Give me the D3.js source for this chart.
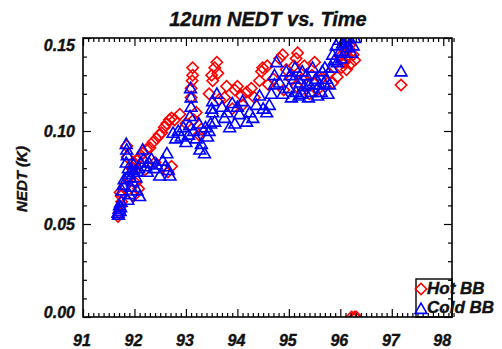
<!DOCTYPE html>
<html>
<head>
<meta charset="utf-8">
<script src="https://cdn.jsdelivr.net/npm/d3@7"></script>
<style>
  body { margin: 0; background: #fff; }
  svg { display: block; }
  text { font-family: "Liberation Sans", Arial, sans-serif; font-weight: bold; font-style: italic; fill: #111; stroke: #111; stroke-width: 0.4px; }
</style>
</head>
<body>
<svg id="chart" width="502" height="349"></svg>
<script>
const TITLE = '12um NEDT vs. Time'
const Y_LABEL = 'NEDT (K)'
const xTicks = [91, 92, 93, 94, 95, 96, 97, 98]
const yTicks = [0.00, 0.05, 0.10, 0.15]
const legendNames = ['Hot BB', 'Cold BB']

// [year, NEDT] pairs
const hotBB = [
  [91.68,0.054],[91.70,0.056],[91.72,0.059],[91.72,0.067],[91.75,0.062],[91.81,0.070],[91.74,0.065],
  [91.85,0.092],[91.86,0.086],[91.88,0.075],[91.95,0.080],[92.00,0.082],[92.05,0.084],[92.10,0.086],
  [92.16,0.088],[92.23,0.090],[92.30,0.091],[92.36,0.094],[92.43,0.096],[92.48,0.098],[92.53,0.099],
  [92.58,0.102],[92.63,0.104],[92.68,0.106],[92.72,0.107],[92.78,0.106],[92.88,0.109],[92.72,0.081],
  [92.65,0.078],[92.02,0.072],[92.08,0.069],[91.98,0.065],[92.20,0.079],[92.40,0.083],
  [93.13,0.134],[93.13,0.130],[93.12,0.127],[93.10,0.123],[93.10,0.118],[93.00,0.104],[93.15,0.106],
  [93.25,0.098],[93.30,0.101],[93.20,0.110],
  [93.60,0.137],[93.62,0.131],[93.52,0.127],[93.50,0.130],[93.56,0.134],[93.45,0.120],[93.65,0.117],
  [93.75,0.118],[93.79,0.124],[93.90,0.112],[93.95,0.122],[94.00,0.124],[94.08,0.119],[94.10,0.114],
  [94.18,0.121],[94.27,0.123],[94.33,0.118],[94.43,0.127],[94.47,0.132],[94.49,0.134],[94.58,0.135],
  [94.60,0.125],[94.70,0.128],[94.82,0.139],[94.88,0.141],[95.17,0.142],[95.14,0.139],[95.10,0.135],
  [94.95,0.133],[94.90,0.122],
  [95.05,0.128],[95.15,0.124],[95.25,0.128],[95.30,0.135],[95.35,0.125],[95.40,0.120],[95.45,0.130],
  [95.50,0.137],[95.55,0.122],[95.62,0.128],[95.70,0.124],[95.78,0.131],[95.85,0.126],[95.94,0.129],
  [96.00,0.140],[96.05,0.137],[96.08,0.146],[96.10,0.143],[96.12,0.140],[96.15,0.140],[96.17,0.144],
  [96.18,0.146],[96.20,0.136],[96.12,0.133],[96.08,0.137],[96.02,0.134],[96.25,0.141],[96.28,0.138],
  [97.18,0.1247],
  [96.22,0.0],[96.28,0.0],[96.31,0.0]
]

const coldBB = [
  [91.68,0.056],[91.69,0.055],[91.70,0.058],[91.71,0.060],[91.72,0.057],[91.73,0.059],[91.74,0.062],
  [91.76,0.068],[91.78,0.071],[91.80,0.074],
  [91.84,0.093],[91.85,0.090],[91.86,0.087],[91.84,0.083],[91.88,0.080],[91.90,0.077],[91.92,0.075],
  [91.95,0.079],[91.98,0.082],[92.00,0.078],[91.96,0.073],[91.93,0.070],[91.90,0.066],[91.87,0.063],
  [92.05,0.068],[92.10,0.065],[92.03,0.075],
  [92.08,0.080],[92.12,0.083],[92.16,0.090],[92.18,0.085],[92.22,0.081],[92.25,0.078],[92.28,0.083],
  [92.33,0.085],[92.38,0.080],[92.43,0.082],[92.49,0.076],[92.55,0.084],[92.63,0.088],[92.66,0.079],
  [92.69,0.076],[92.60,0.081],
  [92.75,0.099],[92.80,0.096],[92.85,0.100],[92.91,0.097],[92.95,0.102],[93.00,0.094],[93.05,0.098],
  [93.07,0.103],[93.08,0.108],[93.10,0.113],[93.10,0.118],[93.09,0.123],[93.15,0.100],[93.20,0.096],
  [93.27,0.090],[93.30,0.093],[93.36,0.088],[93.42,0.097],[93.38,0.102],[93.25,0.104],
  [93.45,0.100],[93.48,0.104],[93.50,0.112],[93.52,0.116],[93.52,0.110],[93.60,0.120],[93.56,0.105],
  [93.70,0.113],[93.75,0.107],[93.85,0.102],[93.80,0.110],[93.90,0.115],[93.95,0.104],[94.00,0.113],
  [94.04,0.109],[94.10,0.116],[94.18,0.105],[94.24,0.110],[94.30,0.107],[94.37,0.114],[94.43,0.119],
  [94.50,0.112],[94.57,0.110],[94.62,0.114],[94.66,0.120],[94.72,0.125],[94.72,0.130],[94.76,0.137],
  [94.82,0.126],[94.88,0.120],[94.95,0.132],[95.00,0.123],[95.05,0.118],[95.10,0.128],[95.14,0.121],
  [95.20,0.119],[95.22,0.126],[95.26,0.132],[95.26,0.120],[95.30,0.124],[95.34,0.130],[95.38,0.118],
  [95.40,0.125],[95.44,0.121],[95.46,0.134],[95.50,0.127],[95.53,0.128],[95.56,0.119],[95.60,0.125],
  [95.63,0.121],[95.65,0.132],[95.68,0.126],[95.73,0.128],[95.76,0.120],[95.79,0.125],[95.70,0.134],
  [95.12,0.134],[95.02,0.130],
  [95.83,0.134],[95.85,0.141],[95.88,0.138],[95.92,0.146],[95.98,0.149],[96.00,0.143],[96.04,0.147],
  [96.08,0.142],[96.10,0.150],[96.12,0.148],[96.14,0.145],[96.17,0.150],[95.94,0.137],[96.02,0.139],
  [96.22,0.142],[96.25,0.146],[96.28,0.150],
  [97.18,0.132]
]

const svg = d3.select('#chart')
const margin = {left: 83, right: 50, top: 38, bottom: 32}
const W = 502, H = 349
const x0 = margin.left, x1 = W - margin.right, y0 = margin.top, y1 = H - margin.bottom

const x = d3.scaleLinear().domain([91, 98.17]).range([x0, x1])
const y = d3.scaleLinear().domain([0, 0.15]).range([y1, y0])

const red = '#ff0000', blue = '#0000ff'
const diamond = d3.symbol(d3.symbolSquare, 64)
const triangle = d3.symbol(d3.symbolTriangle, 60)

svg.append('clipPath').attr('id', 'plotClip')
    .append('rect').attr('x', x0).attr('y', y0).attr('width', x1 - x0).attr('height', y1 - y0)

const marks = svg.append('g').attr('clip-path', 'url(#plotClip)')

marks.selectAll('path.hot')
    .data(hotBB)
    .enter()
    .append('path')
    .attr('class', 'hot')
    .attr('d', diamond)
    .attr('transform', d => `translate(${x(d[0])},${y(d[1])}) rotate(45)`)
    .attr('fill', 'none')
    .attr('stroke', red)
    .attr('stroke-width', 1.6)

marks.selectAll('path.cold')
    .data(coldBB)
    .enter()
    .append('path')
    .attr('class', 'cold')
    .attr('d', triangle)
    .attr('transform', d => `translate(${x(d[0])},${y(d[1]) + 1})`)
    .attr('fill', 'none')
    .attr('stroke', blue)
    .attr('stroke-width', 1.6)

// minor ticks
const xMinor = d3.range(91, 98.2, 0.1).filter(v => Math.abs(v - Math.round(v)) > 0.01)
const yMinor = d3.range(0, 0.151, 0.01).filter(v => Math.abs(v / 0.05 - Math.round(v / 0.05)) > 0.01)

const axesG = svg.append('g').attr('class', 'axes')

const drawTicks = (axisGen, transform, values, size) => {
    const g = axesG.append('g').attr('transform', transform)
        .call(axisGen.tickValues(values).tickSize(-size).tickSizeOuter(0).tickFormat(''))
    g.select('.domain').remove()
    g.selectAll('line').attr('stroke', '#000').attr('stroke-width', 1.2)
    return g
}

drawTicks(d3.axisBottom(x), `translate(0,${y1})`, xMinor, 4)
drawTicks(d3.axisTop(x), `translate(0,${y0})`, xMinor, 4)
drawTicks(d3.axisBottom(x), `translate(0,${y1})`, xTicks, 8)
drawTicks(d3.axisTop(x), `translate(0,${y0})`, xTicks, 8)
drawTicks(d3.axisLeft(y), `translate(${x0},0)`, yMinor, 4)
drawTicks(d3.axisRight(y), `translate(${x1},0)`, yMinor, 4)
drawTicks(d3.axisLeft(y), `translate(${x0},0)`, yTicks, 8)
drawTicks(d3.axisRight(y), `translate(${x1},0)`, yTicks, 8)

// tick labels
axesG.append('g').selectAll('text')
    .data(xTicks)
    .enter()
    .append('text')
    .attr('x', d => x(d) - 1)
    .attr('y', 346)
    .attr('text-anchor', 'middle')
    .attr('font-size', 16)
    .text(d => d)

axesG.append('g').selectAll('text')
    .data(yTicks)
    .enter()
    .append('text')
    .attr('x', x0 - 8)
    .attr('y', d => Math.min(Math.max(y(d), y0 + 7), y1 - 5) + 6)
    .attr('text-anchor', 'end')
    .attr('font-size', 16)
    .text(d => d3.format('.2f')(d))

// frame
svg.append('rect')
    .attr('x', x0).attr('y', y0)
    .attr('width', x1 - x0).attr('height', y1 - y0)
    .attr('fill', 'none').attr('stroke', '#000').attr('stroke-width', 1.6)

// titles
svg.append('text')
    .attr('x', 268).attr('y', 26)
    .attr('text-anchor', 'middle')
    .attr('font-size', 20)
    .text(TITLE)

svg.append('text')
    .attr('transform', `translate(27,179) rotate(-90)`)
    .attr('text-anchor', 'middle')
    .attr('font-size', 15)
    .text(Y_LABEL)

// legend
const legend = svg.append('g')
legend.append('rect')
    .attr('x', 416).attr('y', 279)
    .attr('width', x1 - 416).attr('height', y1 - 279)
    .attr('fill', 'none').attr('stroke', '#000').attr('stroke-width', 1.4)

legend.append('path')
    .attr('d', diamond)
    .attr('transform', 'translate(421,289) rotate(45)')
    .attr('fill', 'none').attr('stroke', red).attr('stroke-width', 1.6)
legend.append('path')
    .attr('d', triangle)
    .attr('transform', 'translate(421,310)')
    .attr('fill', 'none').attr('stroke', blue).attr('stroke-width', 1.6)

legend.selectAll('text')
    .data(legendNames)
    .enter()
    .append('text')
    .attr('x', 427)
    .attr('y', (d, i) => 294 + i * 19)
    .attr('font-size', 17)
    .text(d => d)
</script>
</body>
</html>
